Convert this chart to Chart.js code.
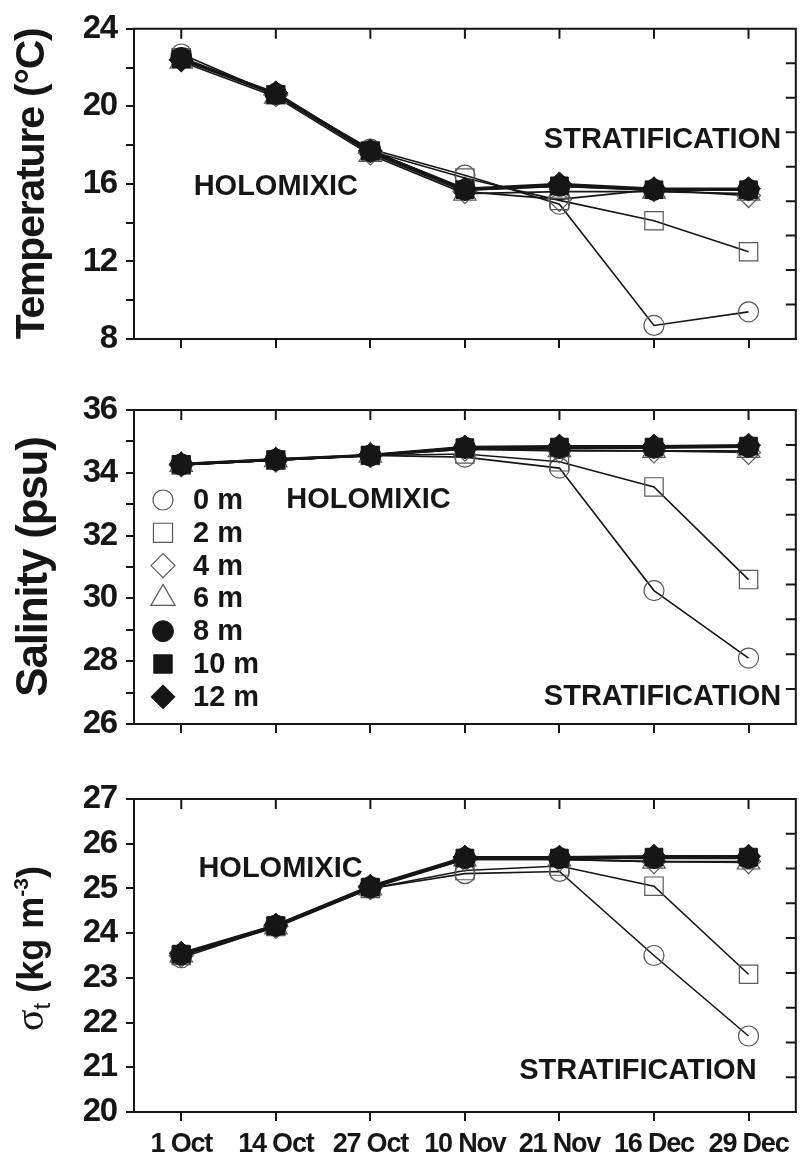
<!DOCTYPE html>
<html><head><meta charset="utf-8">
<script src="https://cdn.jsdelivr.net/npm/chart.js@4.4.1/dist/chart.umd.min.js"></script>
<style>
html,body{margin:0;padding:0;background:#fff;}
#wrap{position:relative;width:810px;height:1156px;background:#fff;overflow:hidden;}
canvas{position:absolute;left:0;}
</style></head><body>
<div id="wrap">
<canvas id="cTemp" width="810" height="370" style="top:0px"></canvas>
<canvas id="cSal" width="810" height="390" style="top:370px"></canvas>
<canvas id="cSig" width="810" height="396" style="top:760px"></canvas>
</div>
<script>
// ---------- data ----------
const dates = ['1 Oct', '14 Oct', '27 Oct', '10 Nov', '21 Nov', '16 Dec', '29 Dec'];
const depthLabels = ['0 m', '2 m', '4 m', '6 m', '8 m', '10 m', '12 m'];

const temp0m  = [22.7, 20.6, 17.8, 16.45, 14.95, 8.7, 9.4];
const temp2m  = [22.5, 20.6, 17.7, 16.3, 15.15, 14.1, 12.5];
const temp4m  = [22.4, 20.6, 17.6, 15.6, 15.2, 15.7, 15.4];
const temp6m  = [22.3, 20.5, 17.5, 15.5, 15.6, 15.6, 15.5];
const temp8m  = [22.5, 20.65, 17.7, 15.7, 15.9, 15.7, 15.7];
const temp10m = [22.45, 20.6, 17.7, 15.7, 15.9, 15.7, 15.7];
const temp12m = [22.4, 20.7, 17.7, 15.75, 16.0, 15.75, 15.75];

const sal0m  = [34.25, 34.4, 34.55, 34.5, 34.15, 30.25, 28.1];
const sal2m  = [34.25, 34.4, 34.55, 34.6, 34.35, 33.55, 30.6];
const sal4m  = [34.25, 34.4, 34.55, 34.75, 34.7, 34.7, 34.65];
const sal6m  = [34.25, 34.4, 34.55, 34.75, 34.72, 34.7, 34.7];
const sal8m  = [34.27, 34.42, 34.55, 34.8, 34.8, 34.8, 34.83];
const sal10m = [34.27, 34.42, 34.56, 34.8, 34.82, 34.82, 34.85];
const sal12m = [34.28, 34.43, 34.57, 34.82, 34.85, 34.85, 34.88];

const sig0m  = [23.45, 24.15, 25.0, 25.33, 25.38, 23.5, 21.7];
const sig2m  = [23.5, 24.15, 25.0, 25.4, 25.5, 25.05, 23.08];
const sig4m  = [23.5, 24.15, 25.02, 25.65, 25.65, 25.6, 25.6];
const sig6m  = [23.5, 24.13, 25.0, 25.65, 25.65, 25.6, 25.58];
const sig8m  = [23.52, 24.17, 25.03, 25.68, 25.68, 25.68, 25.68];
const sig10m = [23.53, 24.17, 25.03, 25.68, 25.68, 25.7, 25.7];
const sig12m = [23.55, 24.18, 25.05, 25.7, 25.7, 25.72, 25.72];

// ---------- styles ----------
const INK = '#161616';
const OPEN = '#595959';
const FONT = "'Liberation Sans', Arial, Helvetica, sans-serif";
const markerStyle = [
  {pointStyle: 'circle',  r: 10,   filled: false, lw: 1.6},
  {pointStyle: 'rect',    r: 13,   filled: false, lw: 1.6},
  {pointStyle: 'rectRot', r: 12,   filled: false, lw: 1.7},
  {pointStyle: 'triangle',r: 13,   filled: false, lw: 1.7},
  {pointStyle: 'circle',  r: 10.5, filled: true,  lw: 2.6},
  {pointStyle: 'rect',    r: 12.5, filled: true,  lw: 2.4},
  {pointStyle: 'rectRot', r: 12,   filled: true,  lw: 2.4}
];
const drawOrder = [6, 5, 4, 3, 0, 2, 1];

function buildDatasets(seriesList) {
  return seriesList.map((vals, i) => {
    const m = markerStyle[i];
    return {
      label: depthLabels[i],
      data: vals,
      order: drawOrder[i],
      borderColor: INK,
      borderWidth: m.lw,
      tension: 0,
      fill: false,
      pointStyle: m.pointStyle,
      pointRadius: m.r,
      pointHoverRadius: m.r,
      pointBackgroundColor: m.filled ? INK : 'rgba(0,0,0,0)',
      pointBorderColor: m.filled ? INK : OPEN,
      pointBorderWidth: m.filled ? 1 : 1.2
    };
  });
}

// ---------- plugins ----------
const spacingPlugin = {
  id: 'tightText',
  beforeDraw(chart, args, opts) {
    if ('letterSpacing' in chart.ctx) chart.ctx.letterSpacing = (opts.px || 0) + 'px';
  }
};

const framePlugin = {
  id: 'frame',
  afterDraw(chart) {
    const {ctx, chartArea: a, scales} = chart;
    ctx.save();
    ctx.strokeStyle = INK;
    ctx.lineWidth = 2;
    ctx.beginPath();
    ctx.moveTo(a.left - 1, a.top);
    ctx.lineTo(a.right, a.top);
    ctx.lineTo(a.right, a.bottom + 1);
    const x = scales.x;
    for (let i = 0; i < x.ticks.length; i++) {
      const px = x.getPixelForTick(i);
      ctx.moveTo(px, a.top);
      ctx.lineTo(px, a.top + 10);
    }
    const r = scales.r;
    if (r) {
      for (let k = r.min + 1; k < r.max; k++) {
        const py = r.getPixelForValue(k);
        ctx.moveTo(a.right, py);
        ctx.lineTo(a.right - 10, py);
      }
    }
    ctx.stroke();
    ctx.restore();
  }
};

const notesPlugin = {
  id: 'notes',
  afterDatasetsDraw(chart, args, opts) {
    const {ctx, scales: {x, y}} = chart;
    ctx.save();
    if ('letterSpacing' in ctx) ctx.letterSpacing = '0px';
    ctx.font = 'bold 29px ' + FONT;
    ctx.fillStyle = INK;
    ctx.textAlign = 'center';
    ctx.textBaseline = 'middle';
    (opts.items || []).forEach(n => {
      ctx.fillText(n.text, x.getPixelForValue(n.at[0]), y.getPixelForValue(n.at[1]));
    });
    ctx.restore();
  }
};

function drawMarker(ctx, style, r, cx, cy) {
  if (Chart.helpers && Chart.helpers.drawPoint) {
    Chart.helpers.drawPoint(ctx, {pointStyle: style, radius: r, rotation: 0, borderWidth: ctx.lineWidth}, cx, cy);
  }
}

const legendPlugin = {
  id: 'depthLegend',
  afterDatasetsDraw(chart, args, opts) {
    if (!opts.show) return;
    const {ctx, chartArea: a} = chart;
    chart.data.datasets.forEach((ds, i) => {
      const cy = a.top + opts.top + i * opts.rowGap;
      const cx = a.left + opts.markerX;
      ctx.save();
      if ('letterSpacing' in ctx) ctx.letterSpacing = '0px';
      ctx.fillStyle = ds.pointBackgroundColor;
      ctx.strokeStyle = ds.pointBorderColor;
      ctx.lineWidth = ds.pointBorderWidth;
      drawMarker(ctx, ds.pointStyle, opts.radius[i], cx, cy);
      ctx.fillStyle = INK;
      ctx.font = 'bold 29px ' + FONT;
      ctx.textAlign = 'left';
      ctx.textBaseline = 'middle';
      ctx.fillText(ds.label, a.left + opts.textX, cy + 1);
      ctx.restore();
    });
  }
};

const sigmaTitlePlugin = {
  id: 'sigmaTitle',
  afterDraw(chart, args, opts) {
    if (!opts.show) return;
    const {ctx, chartArea: a} = chart;
    const cy = (a.top + a.bottom) / 2 + opts.dy;
    const parts = [
      {t: 'σ', font: "40px 'Liberation Serif', 'DejaVu Serif', serif", shift: 0},
      {t: 't', font: '24px ' + FONT, shift: 7},
      {t: ' (kg m', font: 'bold 36px ' + FONT, shift: 0},
      {t: '-3', font: 'bold 21px ' + FONT, shift: -15},
      {t: ')', font: 'bold 36px ' + FONT, shift: 0}
    ];
    ctx.save();
    if ('letterSpacing' in ctx) ctx.letterSpacing = '0px';
    ctx.fillStyle = INK;
    ctx.textBaseline = 'alphabetic';
    ctx.textAlign = 'left';
    let total = 0;
    parts.forEach(p => { ctx.font = p.font; p.w = ctx.measureText(p.t).width; total += p.w; });
    ctx.translate(opts.baselineX, cy);
    ctx.rotate(-Math.PI / 2);
    let px = -total / 2;
    parts.forEach(p => { ctx.font = p.font; ctx.fillText(p.t, px, p.shift); px += p.w; });
    ctx.restore();
  }
};

// ---------- panel builder ----------
function makePanel(id, series, cfg) {
  const opts = {
    responsive: false,
    devicePixelRatio: 1,
    animation: false,
    events: [],
    layout: {padding: {left: 0, right: 12, top: cfg.padTop, bottom: 0}},
    plugins: {
      legend: {display: false},
      tooltip: {enabled: false},
      tightText: {px: -1.2},
      notes: {items: cfg.notes},
      depthLegend: cfg.legend || {show: false},
      sigmaTitle: cfg.sigma || {show: false}
    },
    scales: {
      x: {
        type: 'category',
        offset: true,
        grid: {display: true, drawOnChartArea: false, drawTicks: true, tickLength: 9,
               tickColor: INK, tickWidth: 2, color: INK, lineWidth: 2},
        border: {display: true, color: INK, width: 2},
        ticks: {display: cfg.showX, autoSkip: false, maxRotation: 0, padding: 7, color: INK,
                font: {family: FONT, size: 27, weight: 'bold'}},
        afterFit(s) { s.height = cfg.xHeight; }
      },
      y: {
        type: 'linear',
        position: 'left',
        min: cfg.yMin, max: cfg.yMax,
        grid: {display: true, drawOnChartArea: false, drawTicks: true, tickLength: 8,
               tickColor: INK, tickWidth: 2, color: INK, lineWidth: 2},
        border: {display: true, color: INK, width: 2},
        ticks: {stepSize: cfg.step, autoSkip: false, padding: 9, color: INK,
                font: {family: FONT, size: 33, weight: 'bold'},
                callback: v => (Math.abs(v % cfg.labelEvery) < 1e-9 ? String(v) : '')},
        title: cfg.title ? {display: true, text: cfg.title, color: INK,
                 font: {family: FONT, size: cfg.titleSize, weight: 'bold'}, padding: {top: 8, bottom: 0}}
               : {display: false},
        afterFit(s) { s.width = 134; }
      },
      r: {
        type: 'linear', position: 'right', display: false, min: 0, max: 9
      }
    }
  };
  return new Chart(document.getElementById(id), {
    type: 'line',
    data: {labels: dates, datasets: buildDatasets(series)},
    options: opts,
    plugins: [spacingPlugin, framePlugin, notesPlugin, legendPlugin, sigmaTitlePlugin]
  });
}

makePanel('cTemp', [temp0m, temp2m, temp4m, temp6m, temp8m, temp10m, temp12m], {
  padTop: 25, xHeight: 31, yMin: 8, yMax: 24, step: 2, labelEvery: 4, showX: false,
  title: 'Temperature (\u00B0C)', titleSize: 41,
  notes: [{text: 'HOLOMIXIC', at: [1.0, 15.85]}, {text: 'STRATIFICATION', at: [5.09, 18.25]}]
});

makePanel('cSal', [sal0m, sal2m, sal4m, sal6m, sal8m, sal10m, sal12m], {
  padTop: 40, xHeight: 36, yMin: 26, yMax: 36, step: 1, labelEvery: 2, showX: false,
  title: 'Salinity (psu)', titleSize: 44,
  notes: [{text: 'HOLOMIXIC', at: [1.98, 33.13]}, {text: 'STRATIFICATION', at: [5.09, 26.86]}],
  legend: {show: true, markerX: 29, textX: 59, top: 90, rowGap: 32.8, radius: [10, 13.5, 12, 14, 10.5, 13, 12]}
});

makePanel('cSig', [sig0m, sig2m, sig4m, sig6m, sig8m, sig10m, sig12m], {
  padTop: 39, xHeight: 44, yMin: 20, yMax: 27, step: 1, labelEvery: 1, showX: true,
  title: null,
  notes: [{text: 'HOLOMIXIC', at: [1.05, 25.44]}, {text: 'STRATIFICATION', at: [4.83, 20.92]}],
  sigma: {show: true, baselineX: 43, dy: -7}
});
</script>
</body></html>
